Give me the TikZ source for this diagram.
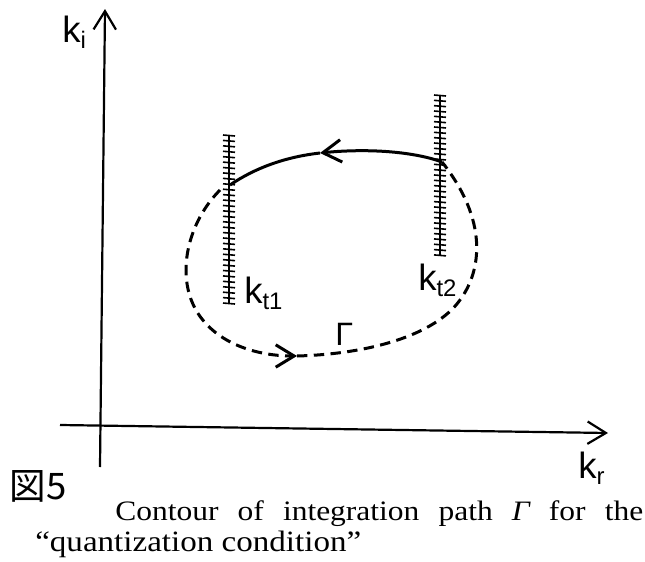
\documentclass[tikz,border=0pt]{standalone}
\usepackage{fontspec}
\setmainfont{Liberation Serif}
\setsansfont{Liberation Sans}
\newfontfamily\cjk{Noto Sans CJK JP}
\newfontfamily\capfont[FakeStretch=1.12]{Liberation Serif}
\usetikzlibrary{arrows.meta}

\newcommand{\ksub}[1]{k\raisebox{-1.5mm}{\fontsize{17}{17}\selectfont #1}}

\begin{document}
\begin{tikzpicture}[
    x=0.25mm, y=-0.25mm,
    >={Straight Barb[length=4.6mm,width=5.6mm]},
    axis/.style={line width=0.55mm, ->},
    cut/.style={line width=0.5mm},
    tick/.style={line width=0.4mm},
    contour/.style={line width=0.75mm},
    contourdash/.style={contour, dash pattern=on 2.6mm off 1.6mm},
    klabel/.style={font=\sffamily\fontsize{26}{26}\selectfont, inner sep=0pt, anchor=base west},
    caption/.style={font=\capfont\fontsize{20}{22}\selectfont, inner sep=0pt, anchor=base west}
  ]
  \useasboundingbox (0,0) rectangle (645,562);

  % axes
  \coordinate (ybot) at (100,467);
  \coordinate (ytop) at (105,9);
  \coordinate (xleft) at (60,425);
  \coordinate (xright) at (608,433);
  \draw[axis] (ybot) -- (ytop);
  \draw[axis] (xleft) -- (xright);
  \node[klabel] (ki) at (62,42) {\ksub{i}};
  \node[klabel] (kr) at (578,478) {\ksub{r}};

  % branch cuts
  \coordinate (c1top) at (229,135);
  \coordinate (c1bot) at (229,303);
  \coordinate (c2top) at (440,95);
  \coordinate (c2bot) at (440,255);
  \draw[cut] (c1top) -- (c1bot);
  \draw[cut] (c2top) -- (c2bot);
  \foreach \i in {0,...,31}
    \draw[tick] (223,135+\i*5.42) -- ++(12,1);
  \foreach \i in {0,...,30}
    \draw[tick] (434,95+\i*5.33) -- ++(12,1);
  \node[klabel] (kt1) at (244,303) {\ksub{t1}};
  \node[klabel] (kt2) at (418,290) {\ksub{t2}};

  % contour
  \coordinate (a1) at (230,185);
  \coordinate (a2) at (320,153);
  \coordinate (a3) at (442,162);
  \coordinate (d1) at (220,190);
  \coordinate (d2) at (186,270);
  \coordinate (b1) at (297,356);
  \coordinate (d3) at (460,300);
  \draw[contour,->] (a3) .. controls (415,152) and (370,148) .. (a2);
  \draw[contour] (a2) .. controls (285,157) and (255,168) .. (a1);
  \draw[contourdash,->] (d1) .. controls (200,210) and (186,240) .. (d2)
    .. controls (186,330) and (240,356) .. (b1);
  \draw[contourdash] (b1) .. controls (370,354) and (435,335) .. (d3)
    .. controls (482,270) and (488,220) .. (a3);
  \node[klabel, font=\sffamily\fontsize{23}{23}\selectfont] (gam) at (335,345) {Γ};

  % caption
  \node[font=\cjk\fontsize{26}{26}\selectfont, inner sep=0pt] (fig) at (38,486) {図5};
  \node[caption] (cap1) at (115,520)
    {\makebox[132mm][s]{Contour of integration path {\itshape Γ} for the}};
  \node[caption, font=\capfont\fontsize{21}{22}\selectfont] (cap2) at (35,551)
    {“quantization condition”};
\end{tikzpicture}
\end{document}
